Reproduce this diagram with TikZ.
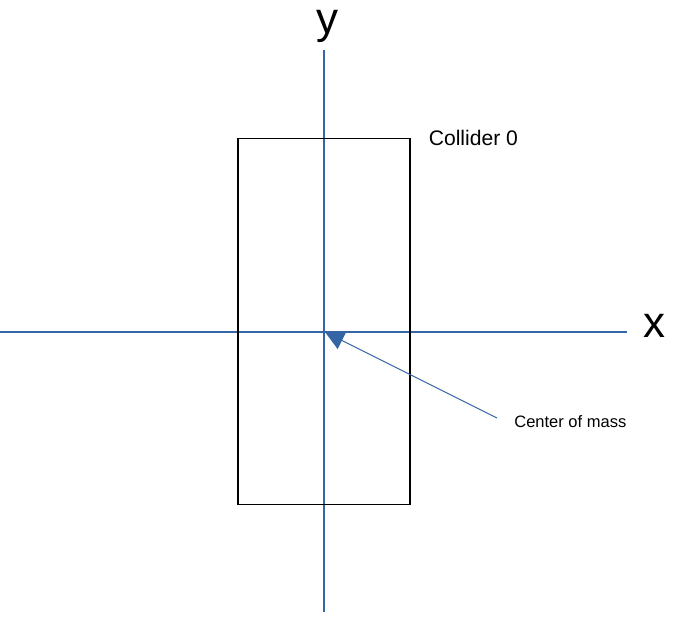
\documentclass[tikz,border=0pt]{standalone}
\usepackage{fontspec}
\setmainfont{Liberation Sans}
\usepackage{xcolor}
\usepackage{tikz}
\usetikzlibrary{arrows.meta, positioning}
\definecolor{axisblue}{HTML}{3465A4}

\begin{document}
\begin{tikzpicture}[x=0.02cm, y=-0.02cm,
    axis/.style={axisblue, line width=0.6pt},
    lbl/.style={inner sep=0pt}]
    \useasboundingbox (0,0) rectangle (680,622);

    % 坐标轴
    \coordinate (xl) at (0,332);
    \coordinate (xr) at (627,332);
    \coordinate (yt) at (324,50);
    \coordinate (yb) at (324,612);
    \coordinate (com) at (325,332);
    \draw[axis] (xl) -- (xr);
    \draw[axis] (yt) -- (yb);
    \node[lbl, font=\fontsize{25}{25}\selectfont] (xlabel) at (654,325.5) {x};
    \node[lbl, font=\fontsize{25}{25}\selectfont] (ylabel) at (327,26) {y};

    % 碰撞体
    \node[draw, line width=0.6pt, minimum width=3.44cm, minimum height=7.34cm, inner sep=0pt] (collider) at (324,321.5) {};
    \node[lbl, font=\fontsize{12}{12}\selectfont, right=0.36cm of collider.north east] (colliderlabel) {Collider 0};

    % 质心
    \node[lbl, font=\fontsize{9.4}{9.4}\selectfont, anchor=west] (mass) at (514,422) {Center of mass};
    \draw[axis, -{Triangle[length=0.38cm, width=0.38cm]}] ([shift={(-17,-4)}]mass.west) -- (com);
\end{tikzpicture}
\end{document}
